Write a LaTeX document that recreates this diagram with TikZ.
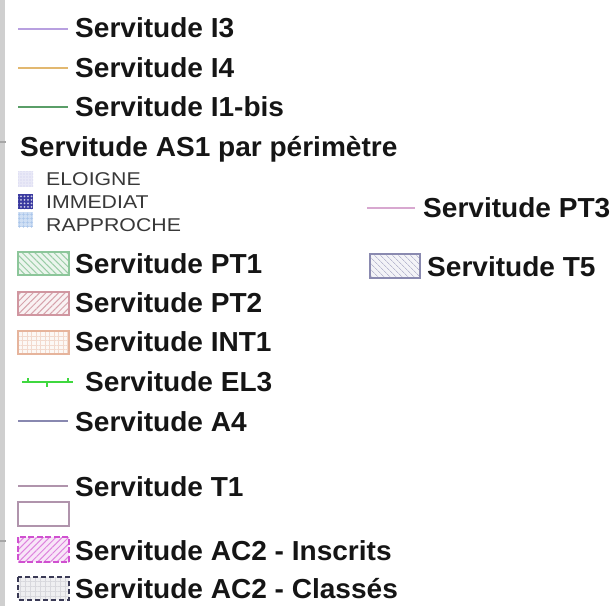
\documentclass[tikz,border=0pt]{standalone}
\usepackage{fontspec}
\setmainfont[FakeStretch=1.02]{Liberation Sans}
\newfontfamily\petite[FakeStretch=1.15]{Liberation Sans}
\usetikzlibrary{patterns.meta}
\definecolor{encre}{HTML}{151515}
\definecolor{encregris}{HTML}{383838}
\definecolor{bordgris}{HTML}{CFCFCF}
\definecolor{colIiii}{HTML}{B8A0E0}
\definecolor{colIiv}{HTML}{E2B870}
\definecolor{colIbis}{HTML}{5A9E68}
\definecolor{colPTiii}{HTML}{D8A8D0}
\definecolor{colELiii}{HTML}{3FD83F}
\definecolor{colAiv}{HTML}{8888B0}
\definecolor{colTi}{HTML}{B094AC}
\definecolor{colPTi}{HTML}{78BC88}
\definecolor{colPTii}{HTML}{C47C88}
\definecolor{colINT}{HTML}{E6B49C}
\definecolor{colTv}{HTML}{8A8AB0}
\definecolor{colInscr}{HTML}{D050D0}
\definecolor{colClass}{HTML}{3A3A55}
\definecolor{coloigne}{HTML}{C8C8EC}
\definecolor{colimmed}{HTML}{3A3AA0}
\definecolor{colrappr}{HTML}{A8C4EA}
\tikzset{
  lbl/.style={font=\bfseries\fontsize{27.5}{30}\selectfont, text=encre},
  sml/.style={font=\petite\fontsize{18.5}{20}\selectfont, text=encregris},
  trait/.style={line width=2.3pt},
  swatch/.style={line width=1.4pt},
}

\begin{document}
\begin{tikzpicture}[x=1pt, y=-1pt, every node/.style={inner sep=0pt, anchor=base west}]
\useasboundingbox (0,0) rectangle (616,606);
\fill[white] (0,0) rectangle (616,606);
\fill[bordgris] (0,0) rectangle (5,606);
\draw[gray!70, line width=1.5pt] (0,142) -- (6,142);
\draw[gray!70, line width=1.5pt] (0,541) -- (6,541);

% lignes I3, I4, I1-bis
\node at (75,37.5) [lbl] (i3) {Servitude I3};
\draw[trait, colIiii] (18,29) -- (68,29);
\node at (75,77) [lbl] (i4) {Servitude I4};
\draw[trait, colIiv] (18,68) -- (68,68);
\node at (75,116) [lbl] (i1bis) {Servitude I1-bis};
\draw[trait, colIbis] (18,107) -- (68,107);

% AS1
\node at (20,156.5) [lbl] (as1) {Servitude AS1 par périmètre};
\node at (46,185) [sml] (eloigne) {ELOIGNE};
\fill[coloigne!40] (18,171) rectangle (33,187);
\fill[pattern={Dots[distance=3pt, radius=.7pt]}, pattern color=coloigne] (18,171) rectangle (33,187);
\node at (46,208.3) [sml] (immediat) {IMMEDIAT};
\fill[colimmed] (18,194) rectangle (33,209);
\fill[pattern={Dots[distance=3.5pt, radius=1pt]}, pattern color=white!75!colimmed] (18,194) rectangle (33,209);
\node at (46,231.7) [sml] (rapproche) {RAPPROCHE};
\fill[colrappr!55] (18,212) rectangle (33,227);
\fill[pattern={Hatch[angle=0, distance=4pt, line width=.5pt]}, pattern color=colrappr] (18,212) rectangle (33,227);

% colonne droite
\node at (423,217.5) [lbl] (pt3) {Servitude PT3};
\draw[trait, colPTiii] (367,208) -- (415,208);
\node at (427,276.5) [lbl] (t5) {Servitude T5};
\fill[colTv!10] (370,254) rectangle (420,278);
\fill[pattern={Lines[angle=-45, distance=4pt, line width=.7pt]}, pattern color=colTv!60] (370,254) rectangle (420,278);
\draw[swatch, colTv] (370,254) rectangle (420,278);

% PT1, PT2, INT1
\node at (75,273) [lbl] (pt1) {Servitude PT1};
\fill[colPTi!15] (18,252) rectangle (69,275);
\fill[pattern={Lines[angle=-45, distance=4.5pt, line width=1pt]}, pattern color=colPTi!75] (18,252) rectangle (69,275);
\draw[swatch, colPTi!85] (18,252) rectangle (69,275);
\node at (75,312) [lbl] (pt2) {Servitude PT2};
\fill[colPTii!10] (18,292) rectangle (69,315);
\fill[pattern={Lines[angle=45, distance=4.5pt, line width=1pt]}, pattern color=colPTii!70] (18,292) rectangle (69,315);
\draw[swatch, colPTii!80] (18,292) rectangle (69,315);
\node at (75,351) [lbl] (int1) {Servitude INT1};
\fill[colINT!10] (18,331) rectangle (69,354);
\fill[pattern={Hatch[angle=0, distance=4.5pt, line width=.5pt]}, pattern color=colINT!50] (18,331) rectangle (69,354);
\draw[swatch, colINT] (18,331) rectangle (69,354);

% EL3, A4, T1
\node at (85,391) [lbl] (el3) {Servitude EL3};
\draw[line width=1.8pt, colELiii] (22,382) -- (73,382);
\draw[line width=1.4pt, colELiii] (28,378) -- (28,382) (47,382) -- (47,387) (68,378) -- (68,382);
\node at (75,431) [lbl] (a4) {Servitude A4};
\draw[trait, colAiv] (18,421) -- (68,421);
\node at (75,496) [lbl] (t1) {Servitude T1};
\draw[trait, colTi] (18,486) -- (68,486);
\draw[swatch, colTi] (18,502) rectangle (69,526);

% AC2
\node at (75,560) [lbl] (inscrits) {Servitude AC2 - Inscrits};
\fill[colInscr!15] (18,537) rectangle (69,562);
\fill[pattern={Lines[angle=45, distance=4.5pt, line width=1pt]}, pattern color=colInscr!70] (18,537) rectangle (69,562);
\draw[swatch, colInscr, dash pattern=on 6pt off 2.5pt] (18,537) rectangle (69,562);
\node at (75,598.3) [lbl] (classes) {Servitude AC2 - Classés};
\fill[colClass!8] (18,577) rectangle (69,600);
\fill[pattern={Hatch[angle=0, distance=5pt, line width=.6pt]}, pattern color=colClass!20] (18,577) rectangle (69,600);
\draw[line width=2pt, colClass, dash pattern=on 5pt off 3pt] (18,577) rectangle (69,600);
\end{tikzpicture}
\end{document}
